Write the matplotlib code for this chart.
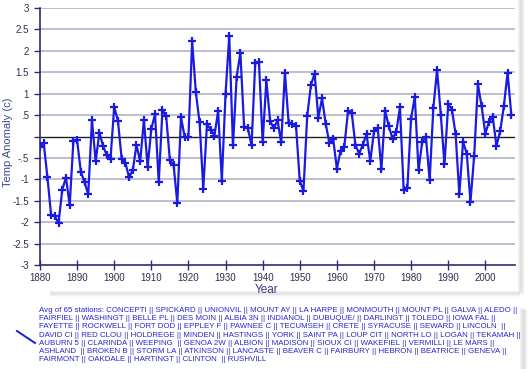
import matplotlib.pyplot as plt
from matplotlib.patches import Rectangle
from matplotlib.lines import Line2D
from matplotlib.ticker import FixedLocator, FixedFormatter

plt.rcParams['font.family'] = ['Liberation Sans', 'DejaVu Sans']

years = list(range(1880, 2008))
anomaly = [
    -0.25, -0.15, -0.95, -1.84, -1.86, -2.02, -1.24, -0.96, -1.60, -0.10,
    -0.09, -0.82, -1.07, -1.35, 0.39, -0.58, 0.09, -0.22, -0.44, -0.52,
    0.69, 0.37, -0.52, -0.61, -0.95, -0.79, -0.20, -0.58, 0.39, -0.71,
    0.18, 0.52, -1.07, 0.62, 0.48, -0.56, -0.66, -1.56, 0.45, -0.02,
    -0.02, 2.22, 1.03, 0.33, -1.22, 0.29, 0.16, 0.02, 0.59, -1.03,
    1.00, 2.35, -0.21, 1.40, 1.95, 0.23, 0.20, -0.21, 1.71, 1.74,
    -0.13, 1.31, 0.37, 0.19, 0.38, -0.14, 1.49, 0.32, 0.29, 0.24,
    -1.04, -1.27, 0.47, 1.20, 1.47, 0.44, 0.89, 0.29, -0.16, -0.05,
    -0.75, -0.33, -0.24, 0.59, 0.55, -0.20, -0.40, -0.19, 0.05, -0.58,
    0.12, 0.21, -0.77, 0.60, 0.24, -0.05, 0.11, 0.68, -1.25, -1.20,
    0.42, 0.93, -0.79, -0.12, -0.01, -1.02, 0.67, 1.56, 0.51, -0.65,
    0.75, 0.63, 0.05, -1.35, -0.12, -0.40, -1.52, -0.45, 1.22, 0.71,
    0.07, 0.34, 0.46, -0.22, 0.12, 0.71, 1.49, 0.51,
]

y_ticks = [3, 2.5, 2, 1.5, 1, 0.5, 0, -0.5, -1, -1.5, -2, -2.5, -3]
y_labels = ['3', '2.5', '2', '1.5', '1', '.5', '', '-.5', '-1', '-1.5', '-2', '-2.5', '-3']
x_ticks = list(range(1880, 2001, 10))

station_lines = [
    ['CONCEPTI', 'SPICKARD', 'UNIONVIL', 'MOUNT AY', 'LA HARPE', 'MONMOUTH', 'MOUNT PL', 'GALVA', 'ALEDO', ''],
    ['FAIRFIEL', 'WASHINGT', 'BELLE PL', 'DES MOIN', 'ALBIA 3N', 'INDIANOL', 'DUBUQUE/', 'DARLINGT', 'TOLEDO', 'IOWA FAL', ''],
    ['FAYETTE', 'ROCKWELL', 'FORT DOD', 'EPPLEY F', 'PAWNEE C', 'TECUMSEH', 'CRETE', 'SYRACUSE', 'SEWARD', 'LINCOLN ', ''],
    ['DAVID CI', 'RED CLOU', 'HOLDREGE', 'MINDEN', 'HASTINGS', 'YORK', 'SAINT PA', 'LOUP CIT', 'NORTH LO', 'LOGAN', 'TEKAMAH', ''],
    ['AUBURN 5', 'CLARINDA', 'WEEPING ', 'GENOA 2W', 'ALBION', 'MADISON', 'SIOUX CI', 'WAKEFIEL', 'VERMILLI', 'LE MARS', ''],
    ['ASHLAND ', 'BROKEN B', 'STORM LA', 'ATKINSON', 'LANCASTE', 'BEAVER C', 'FAIRBURY', 'HEBRON', 'BEATRICE', 'GENEVA', ''],
    ['FAIRMONT', 'OAKDALE', 'HARTINGT', 'CLINTON ', 'RUSHVILL'],
]

navy = '#2e2e6e'
blue = '#1a1ae0'

fig = plt.figure(figsize=(5.29, 3.69), dpi=100)
W, H = 529, 369

# soft drop shadows behind chart panel and legend box
for i, a in enumerate([0.10, 0.08, 0.06, 0.04]):
    fig.patches.append(Rectangle(((518 + i) / W, 1 - (292 + i) / H), 4 / W, (292 + i) / H,
                                 transform=fig.transFigure, color='#808080', alpha=a, lw=0, zorder=0))
    fig.patches.append(Rectangle((50 / W, 1 - (294 + i) / H), 470 / W, 3 / H,
                                 transform=fig.transFigure, color='#808080', alpha=a, lw=0, zorder=0))
    fig.patches.append(Rectangle(((520 + i) / W, 0), 5 / W, 1 - (308 + i) / H,
                                 transform=fig.transFigure, color='#808080', alpha=a, lw=0, zorder=0))

ax = fig.add_axes([40 / W, 1 - 265 / H, 475 / W, 257 / H])
ax.set_xlim(1880, 2008)
ax.set_ylim(-3, 3)

for t in y_ticks:
    if t == 0:
        ax.axhline(t, color='#202020', lw=1.0, zorder=1)
    elif t != -3:
        ax.axhline(t, color='#b9b9cc', lw=1.3, zorder=1)

ax.plot(years, anomaly, color=blue, lw=1.6, marker='+', markersize=6,
        markeredgewidth=1.6, zorder=3)

ax.yaxis.set_major_locator(FixedLocator(y_ticks))
ax.yaxis.set_major_formatter(FixedFormatter(y_labels))
ax.set_xticks(x_ticks)

for s in ['top', 'right']:
    ax.spines[s].set_visible(False)
for s in ['left', 'bottom']:
    ax.spines[s].set_color(navy)
    ax.spines[s].set_linewidth(1.2)

ax.tick_params(axis='y', direction='out', length=4, width=1, color=navy,
               labelsize=7, labelcolor='#303050', pad=4)
ax.tick_params(axis='x', direction='inout', length=7, width=1, color=navy,
               labelsize=7, labelcolor='#303050', pad=2)

fig.text(267 / W, 1 - 290 / H, 'Year', fontsize=8.5, color='#3a3a7a', ha='center', va='center')
fig.text(8 / W, 1 - 142 / H, 'Temp Anomaly (c)', fontsize=8, color='#3a4a8a',
         rotation=90, ha='center', va='center')

# legend block
text_lines = []
for i, names in enumerate(station_lines):
    line = ' || '.join(names).rstrip()
    if i == 0:
        line = 'Avg of 65 stations: ' + line
    text_lines.append(line)
fig.text(39 / W, 1 - 307 / H, '\n'.join(text_lines), fontsize=5.65, color='#2626d0',
         va='top', ha='left', linespacing=1.24)
fig.add_artist(Line2D([17 / W, 35 / W], [1 - 331 / H, 1 - 343 / H], color=blue, lw=1.4))

fig.savefig('out.png', dpi=100)
